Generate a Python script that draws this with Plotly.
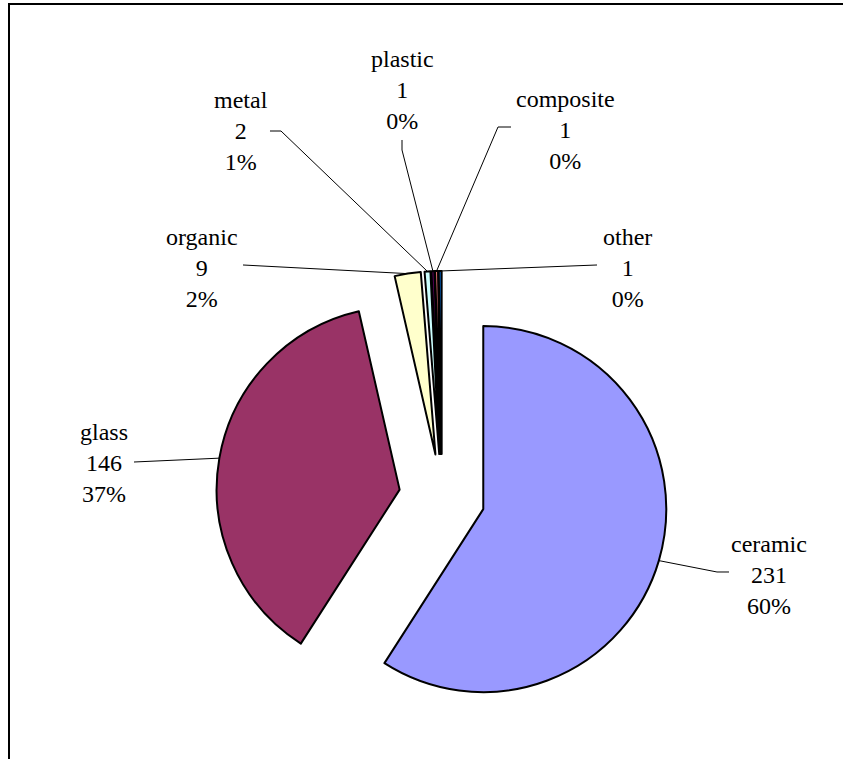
import math
import plotly.graph_objects as go

# ---- data ----
labels = ["ceramic", "glass", "organic", "metal", "plastic", "composite", "other"]
values = [231, 146, 9, 2, 1, 1, 1]
pct_labels = ["60%", "37%", "2%", "1%", "0%", "0%", "0%"]
colors = ["#9999FF", "#993366", "#FFFFCC", "#CCFFFF", "#660066", "#FF8080", "#0066CC"]

# ---- layout (pixels in a 843x759 page) ----
W, H = 843, 759
CX, CY = 442, 497      # pie centre
R = 183                # slice radius
PULL = 0.235           # explosion as fraction of radius
FONT = dict(family="Liberation Serif", size=24, color="black")

# label centres (x, y of the middle text line) and leader start points
label_pos = {
    "ceramic": (769, 575),
    "glass": (104, 463),
    "organic": (202, 268),
    "metal": (241, 131),
    "plastic": (402, 90),
    "composite": (565, 130),
    "other": (627, 268),
}
leader_start = {
    "ceramic": [(729, 572), (717, 572)],
    "glass": [(134, 462)],
    "organic": [(243, 265)],
    "metal": [(270, 131), (281, 131)],
    "plastic": [(402, 140), (402, 150)],
    "composite": [(511, 127), (498, 127)],
    "other": [(597, 265)],
}

def px(x):
    return x / W

def py(y):
    return 1 - y / H

half = R * (1 + PULL)
fig = go.Figure(go.Pie(
    labels=labels, values=values, sort=False, direction="clockwise", rotation=0,
    pull=[PULL] * len(values),
    marker=dict(colors=colors, line=dict(color="black", width=2)),
    textinfo="none", hoverinfo="none", showlegend=False,
    domain=dict(x=[px(CX - half), px(CX + half)], y=[py(CY + half), py(CY - half)]),
))

# leader lines to the outer middle of each exploded slice
total = sum(values)
cum = 0
shapes = []
annotations = []
for lab, v, pct in zip(labels, values, pct_labels):
    mid = (cum + v / 2) / total * 2 * math.pi
    cum += v
    dx, dy = math.sin(mid), -math.cos(mid)
    tx = CX + (R + R * PULL) * dx
    ty = CY + (R + R * PULL) * dy
    pts = leader_start[lab] + [(tx, ty)]
    path = "M " + " L ".join(f"{px(x):.5f},{py(y):.5f}" for x, y in pts)
    shapes.append(dict(type="path", path=path, xref="paper", yref="paper",
                       line=dict(color="black", width=1)))
    lx, ly = label_pos[lab]
    annotations.append(dict(
        x=px(lx), y=py(ly), xref="paper", yref="paper",
        text=f"{lab}<br>{v}<br>{pct}", showarrow=False,
        xanchor="center", yanchor="middle", align="center", font=FONT,
    ))

# chart frame
shapes.append(dict(type="rect", xref="paper", yref="paper",
                   x0=px(9), y0=py(4), x1=px(860), y1=py(780),
                   line=dict(color="black", width=2)))

fig.update_layout(
    width=W, height=H,
    margin=dict(l=0, r=0, t=0, b=0),
    paper_bgcolor="white", plot_bgcolor="white",
    shapes=shapes, annotations=annotations,
)

fig.write_html("out.html", config={"displayModeBar": False},
               post_script="document.body.style.margin='0px';")
